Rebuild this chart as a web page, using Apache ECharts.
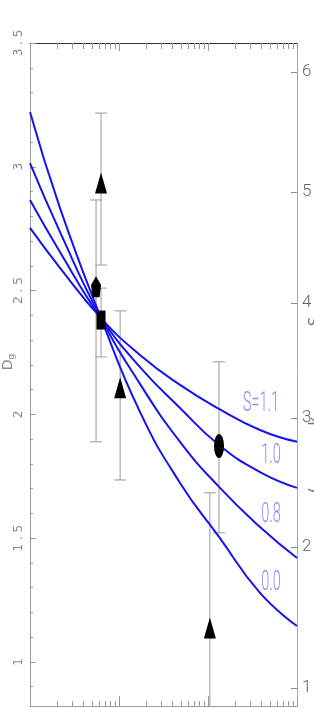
<!DOCTYPE html>
<html><head><meta charset="utf-8">
<script src="https://cdn.jsdelivr.net/npm/echarts@6/dist/echarts.min.js"></script>
<style>html,body{margin:0;padding:0;background:#fff}#c{width:314px;height:708px}</style>
</head><body><div id="c"></div>
<script>
// curves (x on log scale, y = D_g)
const curveX   = [1.0, 2.17, 6.28, 17.2, 48.5, 133, 384, 1000];
const curveS11 = [2.753, 2.592, 2.389, 2.240, 2.119, 2.022, 1.937, 1.889];
const curveS10 = [2.866, 2.656, 2.389, 2.191, 2.026, 1.876, 1.767, 1.703];
const curveS08 = [3.015, 2.737, 2.389, 2.123, 1.889, 1.707, 1.545, 1.420];
const curveS00 = [3.221, 2.834, 2.389, 2.010, 1.723, 1.505, 1.279, 1.145];
const curveNames = ['S=1.1', '1.0', '0.8', '0.0'];
const labelX = [394, 510, 510, 510];
const labelY = [2.042, 1.832, 1.594, 1.319];

// points: [x, y, low, high]
const triangles = [[6.28, 2.935, 2.603, 3.217], [10.3, 2.107, 1.735, 2.418], [105, 1.137, 0.5, 1.683]];
const pentagons = [[5.52, 2.515, 1.889, 2.866]];
const squares   = [[6.28, 2.381, 2.232, 2.510]];
const ellipses  = [[133, 1.872, 1.521, 2.212]];

// ticks
const leftTicks = [1, 1.5, 2, 2.5, 3, 3.5];
const leftMinor = [0.9, 1.1, 1.2, 1.3, 1.4, 1.6, 1.7, 1.8, 1.9, 2.1, 2.2, 2.3, 2.4, 2.6, 2.7, 2.8, 2.9, 3.1, 3.2, 3.3, 3.4];
const rightTickLabels = ['6', '5', '4', '3', '2', '1'];
const rightTickValues = [3.383, 2.898, 2.450, 1.985, 1.464, 0.895];
const logMajor = [1, 10, 100, 1000];
const logMinor = [2, 3, 4, 5, 6, 7, 8, 9, 20, 30, 40, 50, 60, 70, 80, 90, 200, 300, 400, 500, 600, 700, 800, 900];

const chart = echarts.init(document.getElementById('c'), null, {renderer: 'canvas'});
const AX = '#9a9a9a';
const pairs = ys => curveX.map((x, i) => [x, ys[i]]);
const errData = [].concat(triangles, pentagons, squares, ellipses).map(p => [p[0], p[2], p[3]]);
const pts = arr => arr.map(p => [p[0], p[1]]);

function xAx(pos, ticks, len, showLine, lineColor) {
  return {type: 'log', logBase: 10, min: 1, max: 1000, position: pos,
    axisLine: {show: showLine, onZero: false, lineStyle: {color: lineColor, width: 1}},
    axisTick: {show: true, inside: true, length: len, customValues: ticks, lineStyle: {color: AX}},
    axisLabel: {show: false}, splitLine: {show: false}, minorTick: {show: false}};
}
const lineS = (name, ys) => ({type: 'line', name, data: pairs(ys), smooth: true, showSymbol: false,
  lineStyle: {color: '#1414f0', width: 2}, z: 3, silent: true});
const scat = (data, symbol, size) => ({type: 'scatter', data: pts(data), symbol, symbolSize: size,
  itemStyle: {color: '#000', opacity: 1}, z: 5, silent: true});

chart.setOption({
  animation: false,
  grid: {left: 30, right: 17, top: 43, bottom: 2, containLabel: false, outerBoundsMode: 'none'},
  xAxis: [
    xAx('bottom', logMinor, 5, true, AX),
    xAx('bottom', logMajor, 10, false, AX),
    xAx('top', logMinor, 6, true, '#333'),
    xAx('top', logMajor, 8, false, '#333')
  ],
  yAxis: [
    {type: 'value', min: 0.822, max: 3.5, position: 'left',
      axisLine: {show: true, onZero: false, lineStyle: {color: AX}},
      axisTick: {show: true, inside: true, length: 6, customValues: leftTicks, lineStyle: {color: AX}},
      axisLabel: {show: true, customValues: leftTicks, rotate: 90, margin: 5, color: '#8a8a8a',
        fontFamily: 'DejaVu Sans', fontSize: 12, formatter: v => String(v).split('').join(' ')},
      splitLine: {show: false}},
    {type: 'value', min: 0.822, max: 3.5, position: 'left',
      axisLine: {show: false, onZero: false},
      axisTick: {show: true, inside: true, length: 3, customValues: leftMinor, lineStyle: {color: AX}},
      axisLabel: {show: false}, splitLine: {show: false}},
    {type: 'value', min: 0.822, max: 3.5, position: 'right',
      axisLine: {show: true, onZero: false, lineStyle: {color: '#aaa'}},
      axisTick: {show: true, inside: true, length: 6, customValues: rightTickValues, lineStyle: {color: '#888'}},
      axisLabel: {show: true, customValues: rightTickValues, margin: 5, color: '#666',
        fontFamily: 'Roboto', fontWeight: 300, fontSize: 17,
        formatter: v => {
          let bi = 0;
          rightTickValues.forEach((t, i) => { if (Math.abs(t - v) < Math.abs(rightTickValues[bi] - v)) bi = i; });
          return rightTickLabels[bi];
        }},
      splitLine: {show: false}}
  ],
  series: [
    {type: 'custom', data: errData, clip: true, z: 2, silent: true,
      encode: {x: 0, y: [1, 2]},
      renderItem: (params, api) => {
        const x = api.value(0);
        const a = api.coord([x, api.value(1)]), b = api.coord([x, api.value(2)]);
        const w = 6, st = {stroke: '#9a9a9a', lineWidth: 1};
        return {type: 'group', children: [
          {type: 'line', shape: {x1: a[0], y1: a[1], x2: b[0], y2: b[1]}, style: st},
          {type: 'line', shape: {x1: a[0] - w, y1: a[1], x2: a[0] + w, y2: a[1]}, style: st},
          {type: 'line', shape: {x1: b[0] - w, y1: b[1], x2: b[0] + w, y2: b[1]}, style: st}
        ]};
      }},
    lineS('S=1.1', curveS11), lineS('1.0', curveS10), lineS('0.8', curveS08), lineS('0.0', curveS00),
    scat(triangles, 'triangle', [12, 21]),
    scat(pentagons, 'path://M5,0 L10,5 L8.5,12 L1.5,12 L0,5 Z', [10, 21]),
    scat(squares, 'rect', [9, 19]),
    scat(ellipses, 'path://M50,0 A50,50 0 1,1 50,100 A50,50 0 1,1 50,0 Z', [10, 24])
  ]
});

const curveLabels = curveNames.map((t, i) => {
  const p = chart.convertToPixel({xAxisIndex: 0, yAxisIndex: 0}, [labelX[i], labelY[i]]);
  return {type: 'text', x: p[0], y: p[1], scaleX: 0.52, z: 10, silent: true,
    style: {text: t, fill: '#8c8cff', fontSize: 28, fontFamily: 'Roboto', fontWeight: 300,
      align: 'center', verticalAlign: 'middle'}};
});
const axisNames = [
  {type: 'text', x: 8, y: 362, rotation: Math.PI / 2, z: 10, silent: true,
    style: {text: '{d|D}{g|g}', align: 'center', verticalAlign: 'middle',
      rich: {d: {fontSize: 14, fill: '#8a8a8a', fontFamily: 'DejaVu Sans', lineHeight: 16},
             g: {fontSize: 9, fill: '#8a8a8a', fontFamily: 'DejaVu Sans', lineHeight: 10, verticalAlign: 'bottom'}}}},
  {type: 'text', x: 316, y: 405, rotation: Math.PI / 2, z: 10, silent: true,
    style: {text: '(             k                   S', align: 'center', verticalAlign: 'middle',
      fontSize: 15, fill: '#777', fontFamily: 'DejaVu Sans'}}
];
chart.setOption({graphic: curveLabels.concat(axisNames)});
</script></body></html>
